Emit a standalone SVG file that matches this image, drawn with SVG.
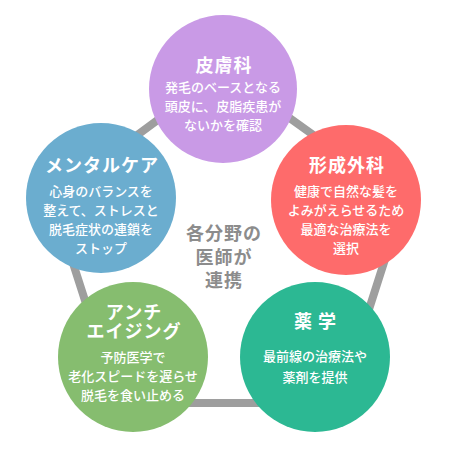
<svg xmlns="http://www.w3.org/2000/svg" width="455" height="467" viewBox="0 0 455 467">
<style>
text{font-family:"Noto Sans CJK JP","Noto Sans",sans-serif;text-anchor:middle;fill:#fff}
.t{font-size:18px;font-weight:700;letter-spacing:1px}
.b{font-size:13px;font-weight:500}
.c{font-size:18px;font-weight:700;fill:#8c8c8c;letter-spacing:1px}
.edge{fill:none;stroke:#9e9e9e;stroke-width:8;stroke-linejoin:round}
</style>
<rect width="455" height="467" fill="#fff"/>
<g id="connectors">
<polygon class="edge" points="224,71 404,200 339,403 118,403 52,198"/>
</g>
<g id="center-label">
<text class="c" x="224" y="240">各分野の</text>
<text class="c" x="224" y="264">医師が</text>
<text class="c" x="224" y="287">連携</text>
</g>
<g id="node-dermatology">
<circle cx="223" cy="89" r="74" fill="#c99ae6"/>
<text class="t" x="224" y="72">皮膚科</text>
<text class="b" x="223" y="92">発毛のベースとなる</text>
<text class="b" x="223" y="111">頭皮に、皮脂疾患が</text>
<text class="b" x="223" y="130">ないかを確認</text>
</g>
<g id="node-plastic-surgery">
<circle cx="346" cy="200" r="75" fill="#fe6b6b"/>
<text class="t" x="347" y="172">形成外科</text>
<text class="b" x="346" y="196">健康で自然な髪を</text>
<text class="b" x="346" y="215">よみがえらせるため</text>
<text class="b" x="346" y="234">最適な治療法を</text>
<text class="b" x="346" y="253">選択</text>
</g>
<g id="node-mental-care">
<circle cx="101" cy="198" r="75" fill="#6badcf"/>
<text class="t" x="102" y="172">メンタルケア</text>
<text class="b" x="101" y="196">心身のバランスを</text>
<text class="b" x="101" y="215">整えて、ストレスと</text>
<text class="b" x="101" y="234">脱毛症状の連鎖を</text>
<text class="b" x="101" y="253">ストップ</text>
</g>
<g id="node-anti-aging">
<circle cx="133" cy="357" r="75" fill="#86bd6f"/>
<text class="t" x="134" y="319">アンチ</text>
<text class="t" x="134" y="338">エイジング</text>
<text class="b" x="133" y="362">予防医学で</text>
<text class="b" x="133" y="381">老化スピードを遅らせ</text>
<text class="b" x="133" y="400">脱毛を食い止める</text>
</g>
<g id="node-pharmacy">
<circle cx="315" cy="357" r="75" fill="#2cb893"/>
<text class="t" x="318" y="328" style="letter-spacing:6px">薬学</text>
<text class="b" x="315" y="361">最前線の治療法や</text>
<text class="b" x="315" y="382">薬剤を提供</text>
</g>
</svg>
